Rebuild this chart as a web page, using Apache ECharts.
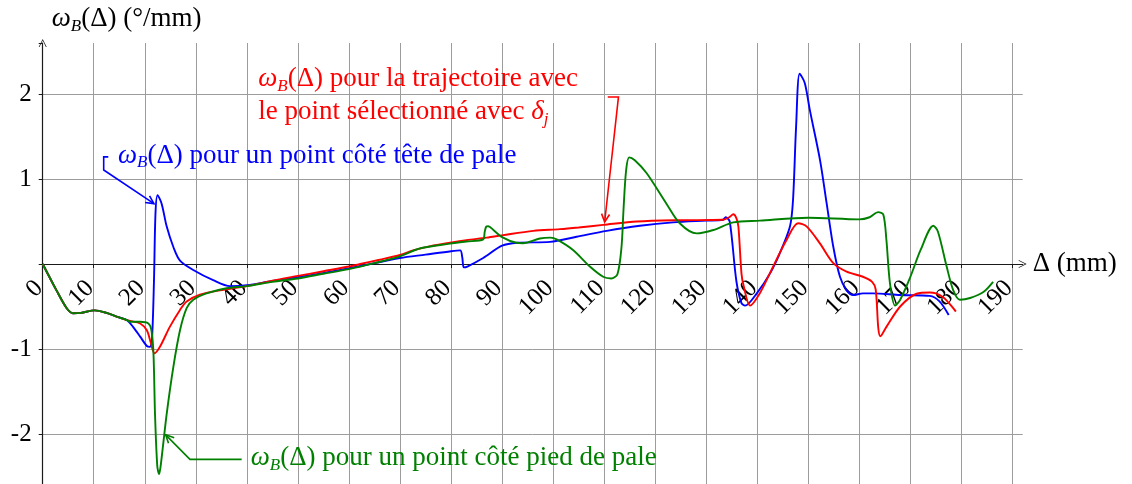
<!DOCTYPE html>
<html>
<head>
<meta charset="utf-8">
<script src="https://cdn.jsdelivr.net/npm/echarts@6/dist/echarts.min.js"></script>
<style>
  html, body { margin: 0; padding: 0; background: #ffffff; }
  #chart { width: 1132px; height: 484px; }
</style>
</head>
<body>
<div id="chart"></div>
<script>
// Angular rate of the blade ω_B versus the displacement Δ, three trajectories.
const xTickLabels = [0, 10, 20, 30, 40, 50, 60, 70, 80, 90, 100, 110, 120, 130, 140, 150, 160, 170, 180, 190];
const yTickLabels = [-2, -1, 1, 2];

// Start shared by the three curves (Δ in mm, ω_B in °/mm)
const sharedStart = [
  [0, 0], [2.7, -0.31], [4.7, -0.52], [6, -0.58], [7.5, -0.575], [10.2, -0.545],
  [12.5, -0.575], [14.8, -0.625], [16.5, -0.66]
];

// Point close to the blade tip
const tipPoint = sharedStart.concat([
  [17.7, -0.74], [19.1, -0.855], [20.4, -0.965], [21, -0.975], [21.4, -0.9], [21.8, -0.2],
  [22.1, 0.6], [22.5, 0.81], [23.3, 0.71], [24.3, 0.44], [25.6, 0.2], [26.9, 0.04],
  [29.5, -0.07], [33.4, -0.19], [36.7, -0.26], [40, -0.25], [45, -0.2], [50, -0.155],
  [55, -0.105], [60, -0.05], [65, 0.01], [70, 0.07], [75, 0.11], [80, 0.15], [81.8, 0.16],
  [82.2, 0.08], [82.5, -0.04], [83.2, -0.03], [86.3, 0.07], [90, 0.215], [93, 0.25],
  [99.4, 0.26], [104.6, 0.32], [110.5, 0.39], [117, 0.45], [123.5, 0.49], [130, 0.51],
  [133.3, 0.52], [133.8, 0.55], [134.6, 0.5], [135.9, -0.2], [136.9, -0.46], [137.6, -0.49],
  [139.9, -0.345], [142.5, -0.11], [144.4, 0.125], [146.4, 0.44], [147, 0.75], [147.6, 1.61],
  [148.3, 2.24], [149.3, 2.13], [150.3, 1.81], [152.3, 1.22], [153.6, 0.71], [154.9, 0.2],
  [156.2, -0.15], [157.5, -0.31], [158.8, -0.365], [160.7, -0.345], [162.7, -0.345],
  [168, -0.365], [173.8, -0.375], [175.7, -0.44], [177.5, -0.6]
]);

// Trajectory through the point selected with δ_j
const selectedPoint = sharedStart.concat([
  [17.1, -0.67], [19.1, -0.7], [20.4, -0.78], [21.2, -0.93], [21.9, -1.05], [23, -0.97],
  [24.9, -0.74], [26.9, -0.54], [28.2, -0.44], [30.8, -0.36], [34.7, -0.31], [40, -0.26],
  [45, -0.195], [50, -0.14], [55, -0.085], [60, -0.03], [62.2, 0], [66, 0.05], [70, 0.106],
  [72.6, 0.16], [76, 0.21], [79.8, 0.25], [83, 0.28], [87, 0.31], [90.2, 0.34], [96.1, 0.39],
  [101.3, 0.41], [105, 0.43], [109.8, 0.46], [116.4, 0.5], [124.2, 0.515], [133.3, 0.52],
  [134.5, 0.55], [135.3, 0.585], [135.9, 0.54], [136.3, 0.44], [136.9, -0.11], [137.3, -0.25],
  [138.6, -0.49], [140.5, -0.345], [143.1, -0.03], [145.7, 0.28], [148, 0.48], [149.7, 0.44],
  [152.3, 0.24], [154.9, 0.01], [157.5, -0.09], [160.7, -0.15], [162.5, -0.21], [163.2, -0.3],
  [163.7, -0.75], [164.1, -0.85], [165.3, -0.74], [168, -0.5], [171.2, -0.35], [173.8, -0.335],
  [176.4, -0.39], [178.9, -0.56]
]);

// Point close to the blade root
const rootPoint = sharedStart.concat([
  [17.1, -0.68], [19.1, -0.68], [20.7, -0.7], [21.3, -0.78], [21.7, -1.05], [22, -1.76],
  [22.45, -2.38], [22.8, -2.47], [23.1, -2.38], [24.3, -1.76], [25.6, -1.21], [26.9, -0.78],
  [28.2, -0.52], [29.5, -0.42], [32.1, -0.345], [36, -0.285], [40, -0.26], [45, -0.21],
  [50, -0.17], [55, -0.115], [60, -0.06], [65, 0.01], [70, 0.09], [74, 0.185], [79.8, 0.24],
  [83, 0.265], [86.3, 0.29], [86.6, 0.38], [86.9, 0.44], [87.3, 0.445], [88.3, 0.4],
  [89.9, 0.32], [92.8, 0.25], [94.1, 0.245], [97.4, 0.3], [99.5, 0.31], [100.7, 0.29],
  [103.9, 0.165], [107.2, -0.03], [109.8, -0.15], [111.4, -0.17], [112.6, -0.12], [113.4, 0.2],
  [113.8, 0.65], [114.3, 1.1], [114.9, 1.255], [116, 1.22], [118.3, 1.07], [122.2, 0.71],
  [124.8, 0.48], [128.1, 0.36], [131.4, 0.4], [135.3, 0.49], [140.5, 0.51], [150, 0.545],
  [160, 0.525], [162, 0.55], [163.7, 0.61], [164.7, 0.58], [165.3, 0.28], [166, -0.23],
  [167, -0.49], [168, -0.42], [170, -0.15], [172, 0.165], [174.5, 0.45], [175.4, 0.38],
  [177.1, -0.03], [178.4, -0.31], [179.7, -0.42], [181.7, -0.4], [184.3, -0.33], [186.2, -0.21]
]);

// Leader lines from each caption to its curve (data units, arrow at the last point)
const tipLeader = [[12.85, 1.26], [11.95, 1.26], [11.95, 1.106], [21.8, 0.71]];
const selectedLeader = [[110.7, 1.965], [112.8, 1.965], [110.1, 0.494]];
const rootLeader = [[38.98, -2.298], [28.85, -2.298], [24.1, -2.01]];

const SERIF = '"Liberation Serif", "Times New Roman", serif';
const FS = 27;       // captions
const TICK_FS = 25;  // tick labels
const BLUE = '#0000ff', RED = '#ff0000', GREEN = '#008000';

const rich = {
  n: { fontFamily: SERIF, fontSize: FS, lineHeight: 32 },
  i: { fontFamily: SERIF, fontSize: FS, fontStyle: 'italic', lineHeight: 32 },
  s: { fontFamily: SERIF, fontSize: 17, fontStyle: 'italic', lineHeight: 17, verticalAlign: 'bottom' }
};
const BASE_OFF = 24;

function caption(x, baseline, text, color) {
  return {
    type: 'text', x: x, y: baseline - BASE_OFF, silent: true, z: 10,
    style: {
      text: text, fill: color, rich: rich, align: 'left', verticalAlign: 'top',
      font: FS + 'px ' + SERIF
    }
  };
}

function leaderSeries(path, color) {
  return {
    type: 'custom',
    coordinateSystem: 'cartesian2d',
    silent: true,
    z: 5,
    data: [path[path.length - 1]],
    renderItem: function (params, api) {
      const pts = path.map(function (p) { return api.coord(p); });
      const tip = pts[pts.length - 1], prev = pts[pts.length - 2];
      let dx = tip[0] - prev[0], dy = tip[1] - prev[1];
      const len = Math.hypot(dx, dy); dx /= len; dy /= len;
      const L = 8, W = 4;
      const a = [tip[0] - L * dx - W * dy, tip[1] - L * dy + W * dx];
      const b = [tip[0] - L * dx + W * dy, tip[1] - L * dy - W * dx];
      return {
        type: 'group',
        children: [
          { type: 'polyline', shape: { points: pts }, style: { stroke: color, lineWidth: 1.6, fill: 'none' } },
          { type: 'polyline', shape: { points: [a, tip, b] }, style: { stroke: color, lineWidth: 1.6, fill: 'none' } }
        ]
      };
    }
  };
}

function curve(data, color) {
  return {
    type: 'line', data: data, showSymbol: false, symbol: 'none',
    smooth: 0.3, silent: true,
    lineStyle: { color: color, width: 1.9 }, itemStyle: { color: color }
  };
}

const ARROW = 'path://M0,10 L5,0 L10,10 L9,10 L5,2 L1,10 Z';
const AXIS_COLOR = '#1a1a1a';
const GRID_COLOR = '#9c9c9c';

// Plot area spans ω_B from -2.6 to 2.6; the Δ axis is raised to ω_B = 0.
const Y_MIN = -2.6, Y_MAX = 2.6;
const GRID_TOP = 43, GRID_HEIGHT = 442;
const zeroOffset = -GRID_HEIGHT * (0 - Y_MIN) / (Y_MAX - Y_MIN);

const chart = echarts.init(document.getElementById('chart'), null, { renderer: 'canvas' });
chart.setOption({
  animation: false,
  backgroundColor: '#ffffff',
  grid: { left: 42.7, right: 109.3, top: GRID_TOP, height: GRID_HEIGHT, containLabel: false, outerBoundsMode: 'none' },
  xAxis: {
    type: 'value', min: 0, max: 192, interval: 10,
    position: 'bottom', offset: zeroOffset,
    name: 'Δ (mm)', nameLocation: 'end', nameGap: 10,
    nameTextStyle: { fontFamily: SERIF, fontSize: FS, color: '#000' },
    axisLine: { onZero: false, lineStyle: { color: AXIS_COLOR, width: 1.2 }, symbol: ['none', ARROW], symbolSize: [10, 8] },
    axisTick: { show: true, length: 4, lineStyle: { color: AXIS_COLOR, width: 1 } },
    axisLabel: {
      show: true, rotate: 45, margin: 17, padding: [0, 5, 0, 0],
      fontFamily: SERIF, fontSize: TICK_FS, color: '#000',
      showMinLabel: true, showMaxLabel: false, hideOverlap: false,
      formatter: function (v) { return xTickLabels.indexOf(v) >= 0 ? String(v) : ''; }
    },
    splitLine: { show: true, showMaxLine: false, lineStyle: { color: GRID_COLOR, width: 1 } }
  },
  yAxis: {
    type: 'value', min: Y_MIN, max: Y_MAX, minInterval: 1, maxInterval: 1,
    axisLine: { show: true, onZero: false, lineStyle: { color: AXIS_COLOR, width: 1.2 }, symbol: ['none', ARROW], symbolSize: [10, 8] },
    axisTick: { show: true, length: 4, lineStyle: { color: AXIS_COLOR, width: 1 } },
    axisLabel: {
      margin: 11, fontFamily: SERIF, fontSize: TICK_FS, color: '#000', hideOverlap: false,
      formatter: function (v) { return yTickLabels.indexOf(v) >= 0 ? String(v) : ''; }
    },
    splitLine: { show: true, showMinLine: false, showMaxLine: false, lineStyle: { color: GRID_COLOR, width: 1 } }
  },
  graphic: [
    caption(51.7, 27, '{i|ω}{s|B}{n|(Δ) (°/mm)}', '#000'),
    caption(118, 163.5, '{i|ω}{s|B}{n|(Δ) pour un point côté tête de pale}', BLUE),
    caption(258.3, 86.7, '{i|ω}{s|B}{n|(Δ) pour la trajectoire avec}', RED),
    caption(258.3, 120, '{n|le point sélectionné avec }{i|δ}{s|j}', RED),
    caption(250.7, 466, '{i|ω}{s|B}{n|(Δ) pour un point côté pied de pale}', GREEN)
  ],
  series: [
    curve(tipPoint, BLUE),
    curve(selectedPoint, RED),
    curve(rootPoint, GREEN),
    leaderSeries(tipLeader, BLUE),
    leaderSeries(selectedLeader, RED),
    leaderSeries(rootLeader, GREEN)
  ]
});
</script>
</body>
</html>
